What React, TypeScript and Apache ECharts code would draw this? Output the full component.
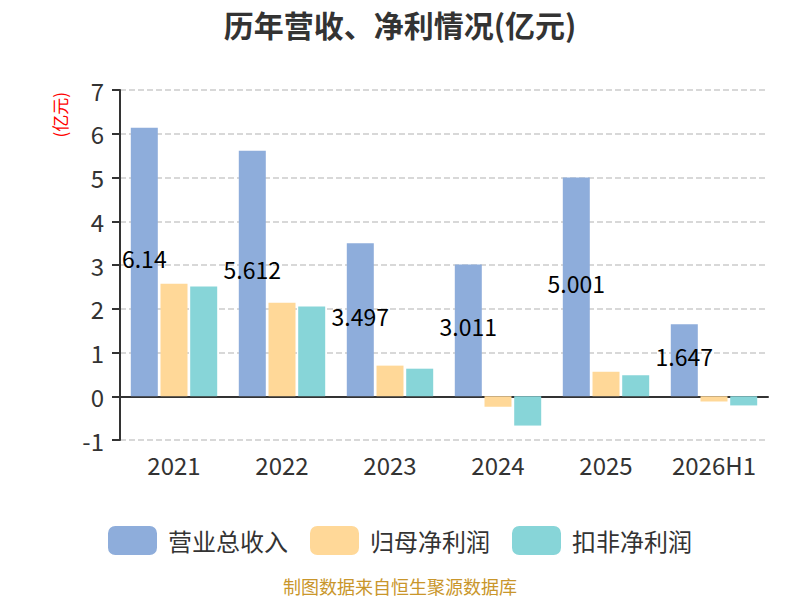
import * as echarts from "echarts";
import { useEffect, useRef } from "react";

// 年份
const years = ["2021", "2022", "2023", "2024", "2025", "2026H1"];
// 营业总收入(亿元)
const revenue = [6.14, 5.612, 3.497, 3.011, 5.001, 1.647];
// 归母净利润(亿元)
const netProfit = [2.57, 2.14, 0.7, -0.24, 0.56, -0.12];
// 扣非净利润(亿元)
const deductedProfit = [2.51, 2.05, 0.63, -0.67, 0.48, -0.21];

const seriesNames = ["营业总收入", "归母净利润", "扣非净利润"];
const colors = ["#8EADDB", "#FFD898", "#87D5D8"];

const FONT = "'Noto Sans CJK SC', 'Noto Sans', sans-serif";

export default () => {
  const chartRef = useRef<HTMLDivElement>(null);

  useEffect(() => {
    document.body.style.margin = "0";
    if (!chartRef.current) return;
    const myChart = echarts.init(chartRef.current, null, { renderer: "svg" });
    myChart.setOption({
      animation: false,
      textStyle: { fontFamily: FONT },
      title: {
        text: "历年营收、净利情况(亿元)",
        left: "center",
        top: 4,
        textStyle: { fontSize: 30, fontWeight: "bold", color: "#333", fontFamily: FONT },
      },
      graphic: [
        {
          type: "text",
          left: 51,
          top: 92,
          rotation: Math.PI / 2,
          style: { text: "(亿元)", fill: "#ff0000", fontSize: 17, fontFamily: FONT },
        },
        {
          type: "text",
          left: "center",
          top: 577,
          style: {
            text: "制图数据来自恒生聚源数据库",
            fill: "#C9962B",
            fontSize: 18,
            fontFamily: FONT,
          },
        },
      ],
      legend: {
        data: seriesNames,
        top: 521,
        left: "center",
        itemWidth: 49,
        itemHeight: 29,
        itemGap: 22,
        textStyle: { fontSize: 24, color: "#333", fontFamily: FONT, padding: [0, 0, 0, 6] },
      },
      grid: { left: 120, right: 32, top: 90, bottom: 160 },
      xAxis: {
        type: "category",
        data: years,
        axisLine: { onZero: true, lineStyle: { color: "#333", width: 2 } },
        axisTick: { length: 8, lineStyle: { color: "#333", width: 2 } },
        axisLabel: { fontSize: 24, color: "#333", margin: 12, interval: 0 },
      },
      yAxis: {
        type: "value",
        min: -1,
        max: 7,
        interval: 1,
        axisLine: { show: true, lineStyle: { color: "#333", width: 2 } },
        axisTick: { show: true, length: 8, lineStyle: { color: "#333", width: 2 } },
        axisLabel: { fontSize: 24, color: "#333", margin: 16 },
        splitLine: { lineStyle: { type: "dashed", color: "#ccc", width: 1.5 } },
      },
      series: [
        {
          name: seriesNames[0],
          type: "bar",
          data: revenue,
          barWidth: 27,
          barGap: "10%",
          itemStyle: { color: colors[0] },
          label: {
            show: true,
            position: "inside",
            offset: [0, -4],
            color: "#000",
            fontSize: 23,
            fontFamily: FONT,
          },
        },
        {
          name: seriesNames[1],
          type: "bar",
          data: netProfit,
          barWidth: 27,
          barGap: "10%",
          itemStyle: { color: colors[1] },
        },
        {
          name: seriesNames[2],
          type: "bar",
          data: deductedProfit,
          barWidth: 27,
          barGap: "10%",
          itemStyle: { color: colors[2] },
        },
      ],
    });
    return () => {
      myChart.dispose();
    };
  }, []);

  return <div ref={chartRef} style={{ width: 800, height: 600 }}></div>;
};
